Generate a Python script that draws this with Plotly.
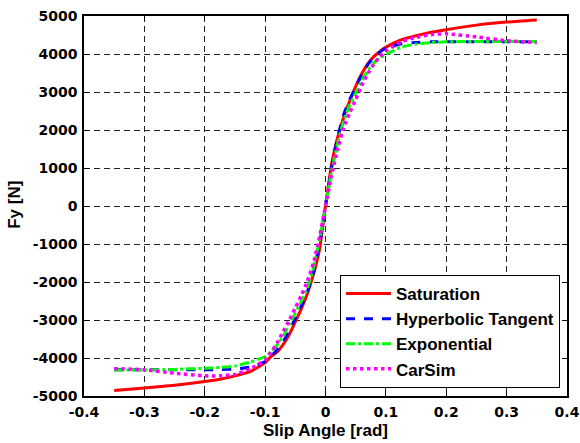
import plotly.graph_objects as go

slip = [-0.35, -0.3, -0.25, -0.2, -0.175, -0.15, -0.125, -0.1, -0.09, -0.08, -0.07, -0.06, -0.05, -0.04,
        -0.03, -0.02, -0.01, 0.0, 0.01, 0.02, 0.03, 0.04, 0.05, 0.06, 0.07, 0.08, 0.09, 0.1, 0.125,
        0.15, 0.175, 0.2, 0.25, 0.3, 0.35]

saturation = [-4855, -4790, -4720, -4620, -4560, -4470, -4360, -4120, -3960, -3840, -3640, -3380, -3050, -2700,
              -2300, -1800, -1150, 0, 1100, 1800, 2330, 2760, 3150, 3480, 3740, 3930, 4070, 4180, 4370,
              4480, 4570, 4640, 4760, 4840, 4895]
hyperbolic = [-4310, -4310, -4310, -4310, -4305, -4290, -4240, -4090, -3950, -3780, -3560, -3280, -2950, -2620,
              -2250, -1750, -1000, 0, 1000, 1800, 2400, 2800, 3120, 3450, 3720, 3910, 4050, 4150, 4270,
              4305, 4320, 4325, 4325, 4325, 4325]
exponential = [-4315, -4315, -4300, -4270, -4250, -4210, -4110, -3960, -3830, -3660, -3420, -3120, -2820, -2500,
               -2150, -1620, -900, 0, 900, 1650, 2230, 2650, 2970, 3300, 3560, 3760, 3900, 3990, 4180,
               4260, 4300, 4320, 4330, 4330, 4330]
carsim = [-4280, -4310, -4400, -4470, -4470, -4430, -4290, -4050, -3850, -3600, -3300, -3000, -2680, -2350,
          -1980, -1500, -820, 0, 800, 1480, 2060, 2450, 2800, 3170, 3480, 3730, 3930, 4080, 4320,
          4440, 4510, 4530, 4450, 4350, 4300]

x_ticks = [-0.4, -0.3, -0.2, -0.1, 0, 0.1, 0.2, 0.3, 0.4]
x_tick_text = ["-0.4", "-0.3", "-0.2", "-0.1", "0", "0.1", "0.2", "0.3", "0.4"]
y_ticks = [-5000, -4000, -3000, -2000, -1000, 0, 1000, 2000, 3000, 4000, 5000]
y_tick_text = ["-5000", "-4000", "-3000", "-2000", "-1000", "0", "1000", "2000", "3000", "4000", "5000"]

ARIAL = "Liberation Sans, Arial, sans-serif"
WIDE = "DejaVu Sans, sans-serif"

fig = go.Figure()
fig.add_trace(go.Scatter(x=slip, y=saturation, mode="lines", name="Saturation",
                         line=dict(color="#ff0000", width=3, shape="spline", smoothing=0.5)))
fig.add_trace(go.Scatter(x=slip, y=hyperbolic, mode="lines", name="Hyperbolic Tangent",
                         line=dict(color="#0000ff", width=3, dash="dash", shape="spline", smoothing=0.5)))
fig.add_trace(go.Scatter(x=slip, y=exponential, mode="lines", name="Exponential",
                         line=dict(color="#00ff00", width=3, dash="dashdot", shape="spline", smoothing=0.5)))
fig.add_trace(go.Scatter(x=slip, y=carsim, mode="lines", name="CarSim",
                         line=dict(color="#ff00ff", width=3.5, dash="dot", shape="spline", smoothing=0.5)))

axis_common = dict(
    showline=True, linecolor="black", linewidth=1.5, mirror="ticks",
    ticks="inside", ticklen=5, tickcolor="black", tickwidth=1,
    showgrid=True, gridcolor="#222222", gridwidth=1, griddash="6px,4px",
    zeroline=False, automargin=False,
    tickfont=dict(family=WIDE, size=14, color="black", weight="bold"),
)

fig.update_layout(
    width=580, height=443,
    margin=dict(l=84, r=13, t=16, b=47),
    paper_bgcolor="white", plot_bgcolor="white",
    font=dict(family=ARIAL, color="black"),
    xaxis=dict(range=[-0.4, 0.4], tickvals=x_ticks, ticktext=x_tick_text, ticklabelstandoff=2,
               **axis_common),
    yaxis=dict(range=[-5000, 5000], tickvals=y_ticks, ticktext=y_tick_text, ticklabelstandoff=2,
               **axis_common),
    legend=dict(x=0.9855, y=0.021, xanchor="right", yanchor="bottom",
                bgcolor="white", bordercolor="black", borderwidth=1,
                font=dict(family=ARIAL, size=17, color="black", weight="bold"),
                itemwidth=45, tracegroupgap=0),
    showlegend=True,
    annotations=[
        dict(text="Slip Angle [rad]", xref="paper", yref="paper", x=0.5, y=-0.0895,
             xanchor="center", yanchor="middle", showarrow=False,
             font=dict(family=ARIAL, size=17, color="black", weight="bold")),
        dict(text="Fy [N]", xref="paper", yref="paper", x=-0.1429, y=0.503,
             xanchor="center", yanchor="middle", showarrow=False, textangle=-90,
             font=dict(family=ARIAL, size=17, color="black", weight="bold")),
    ],
)

fig.write_html("out.html", config={"displayModeBar": False},
               post_script="document.body.style.margin='0px';document.body.style.overflow='hidden';")
